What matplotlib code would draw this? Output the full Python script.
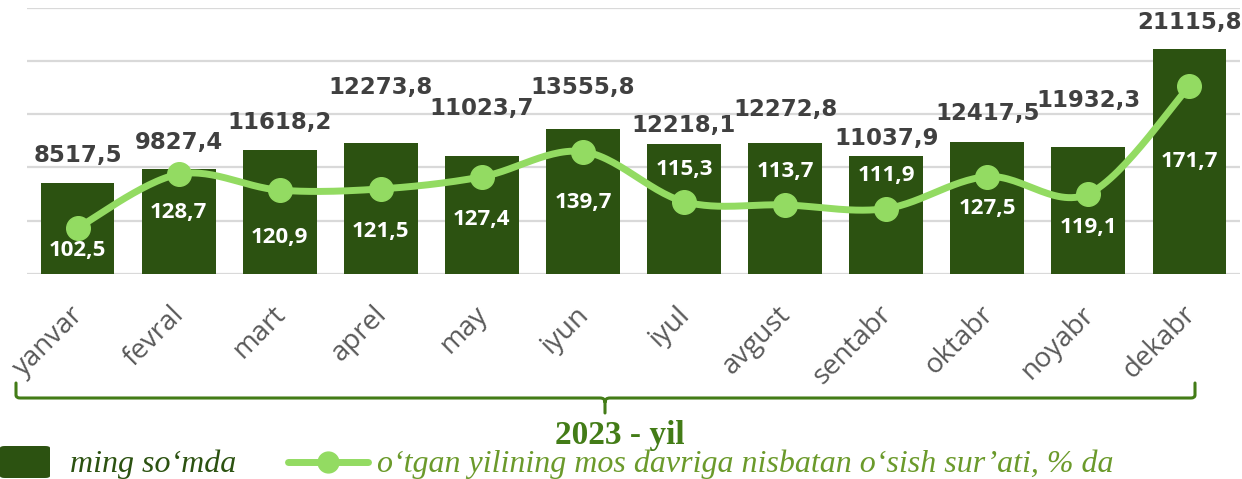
import numpy as np
import matplotlib
matplotlib.use('Agg')
import matplotlib.pyplot as plt
from matplotlib.lines import Line2D
from matplotlib.patches import FancyBboxPatch, PathPatch
from matplotlib.path import Path

# ---- data -----------------------------------------------------------------
months = ['yanvar', 'fevral', 'mart', 'aprel', 'may', 'iyun',
          'iyul', 'avgust', 'sentabr', 'oktabr', 'noyabr', 'dekabr']
amount = [8517.5, 9827.4, 11618.2, 12273.8, 11023.7, 13555.8,
          12218.1, 12272.8, 11037.9, 12417.5, 11932.3, 21115.8]
growth = [102.5, 128.7, 120.9, 121.5, 127.4, 139.7,
          115.3, 113.7, 111.9, 127.5, 119.1, 171.7]

# label offsets (pixels) chosen to mimic the original placement
bar_lbl_dy = [28, 27, 28, 56, 48, 42, 18, 34, 18, 28, 46, 26]
line_lbl_dy = [-23, -38, -47, -43, -43, -51, 32, 33, 33, -32, -34, -75]

# ---- style ----------------------------------------------------------------
BAR = '#2C5211'
LINE = '#93DB62'
INK = '#404040'
TICK = '#595959'
GRID = '#D9D9D9'
BRACE = '#437C17'
OLIVE = '#6B9A2B'

W, H = 1242, 479
fig = plt.figure(figsize=(W / 100, H / 100), dpi=100)
ax = fig.add_axes([27 / W, 1 - 274 / H, 1213 / W, 266.5 / H])


def smooth(xs, ys, n=30):
    # Catmull-Rom curve through the points (Excel-like smoothed line)
    pts = np.column_stack([xs, ys]).astype(float)
    P = np.vstack([pts[0], pts, pts[-1]])
    t = np.linspace(0, 1, n, endpoint=False)[:, None]
    segs = []
    for i in range(len(pts) - 1):
        p0, p1, p2, p3 = P[i], P[i + 1], P[i + 2], P[i + 3]
        segs.append(0.5 * (2 * p1 + (p2 - p0) * t
                           + (2 * p0 - 5 * p1 + 4 * p2 - p3) * t ** 2
                           + (-p0 + 3 * p1 - 3 * p2 + p3) * t ** 3))
    segs.append(pts[-1:])
    out = np.vstack(segs)
    return out[:, 0], out[:, 1]


x = np.arange(len(months))
ax.bar(x, amount, width=0.73, color=BAR, zorder=2)
ax.set_xlim(-0.5, len(months) - 0.5)
ax.set_ylim(0, 25000)
ax.set_yticks(np.arange(0, 25001, 5000))
ax.yaxis.grid(True, color=GRID, linewidth=1.6, zorder=0)
ax.set_axisbelow(True)
for s in ax.spines.values():
    s.set_visible(False)
# ticks nudged a little left so the rotated names end just left of centre
ax.set_xticks(x - 0.08)
ax.set_xticklabels(months, rotation=45, ha='right', va='top',
                   rotation_mode='anchor', fontsize=20, color=TICK,
                   family='Open Sans')

for xi, v, dy in zip(x, amount, bar_lbl_dy):
    ax.annotate(f'{v:.1f}'.replace('.', ','), (xi, v), xytext=(0, dy),
                textcoords='offset pixels', ha='center', va='center',
                fontsize=16.5, fontweight='bold', color=INK, family='DejaVu Sans')

ax2 = ax.twinx()
ax2.set_ylim(80, 210)
ax2.axis('off')
sx, sy = smooth(x, growth)
ax2.plot(sx, sy, color=LINE, linewidth=5, solid_capstyle='round', zorder=3)
ax2.plot(x, growth, 'o', color=LINE, markersize=17, zorder=4)
for xi, v, dy in zip(x, growth, line_lbl_dy):
    ax2.annotate(f'{v:.1f}'.replace('.', ','), (xi, v), xytext=(0, dy),
                 textcoords='offset pixels', ha='center', va='center',
                 fontsize=16, fontweight='bold', color='white',
                 family='Open Sans', zorder=5)

# twinx turns the left ticks back on, so switch them off afterwards
ax.tick_params(axis='y', left=False, right=False, labelleft=False)
ax.tick_params(axis='x', length=0, pad=19)


# ---- brace + year caption ---------------------------------------------------
def fp(px, py):
    return (px / W, 1 - py / H)


xl, xr, xm = 16, 1195, 605
yt, yb, yc = 383, 398, 413
verts = [fp(xl, yt), fp(xl, yb - 3), fp(xl, yb), fp(xl + 4, yb),
         fp(xm - 5, yb), fp(xm, yb), fp(xm, yb + 4), fp(xm, yc),
         fp(xm, yb + 4), fp(xm, yb), fp(xm + 5, yb),
         fp(xr - 4, yb), fp(xr, yb), fp(xr, yb - 3), fp(xr, yt)]
codes = [Path.MOVETO, Path.LINETO, Path.CURVE3, Path.CURVE3,
         Path.LINETO, Path.CURVE3, Path.CURVE3, Path.LINETO,
         Path.MOVETO, Path.CURVE3, Path.CURVE3,
         Path.LINETO, Path.CURVE3, Path.CURVE3, Path.LINETO]
fig.add_artist(PathPatch(Path(verts, codes), fill=False, edgecolor=BRACE,
                         linewidth=2.2, transform=fig.transFigure,
                         capstyle='round', joinstyle='round'))
fig.text(*fp(620, 444), '2023 - yil', ha='center', va='baseline',
         fontsize=24, fontweight='bold', color=BRACE, family='Liberation Serif')

# ---- legend (drawn by hand to match the original layout) ---------------------
fig.add_artist(FancyBboxPatch(fp(0, 478), 50 / W, 32 / H,
                              boxstyle='round,pad=0,rounding_size=0.004',
                              transform=fig.transFigure, facecolor=BAR,
                              edgecolor='none'))
fig.text(*fp(70, 472), 'ming so\u2018mda', ha='left', va='baseline',
         fontsize=23, style='italic', color=BAR, family='Liberation Serif')
lx0, ly = fp(288, 462)
lx1, _ = fp(368, 462)
fig.add_artist(Line2D([lx0, lx1], [ly, ly], color=LINE, linewidth=5,
                      solid_capstyle='round', transform=fig.transFigure))
fig.add_artist(Line2D([(lx0 + lx1) / 2], [ly], marker='o', markersize=15,
                      color=LINE, transform=fig.transFigure))
fig.text(*fp(377, 472),
         'o\u2018tgan yilining mos davriga nisbatan o\u2018sish sur\u2019ati, % da',
         ha='left', va='baseline', fontsize=23, style='italic', color=OLIVE,
         family='Liberation Serif')

fig.savefig('out.png', dpi=100, facecolor='white')
